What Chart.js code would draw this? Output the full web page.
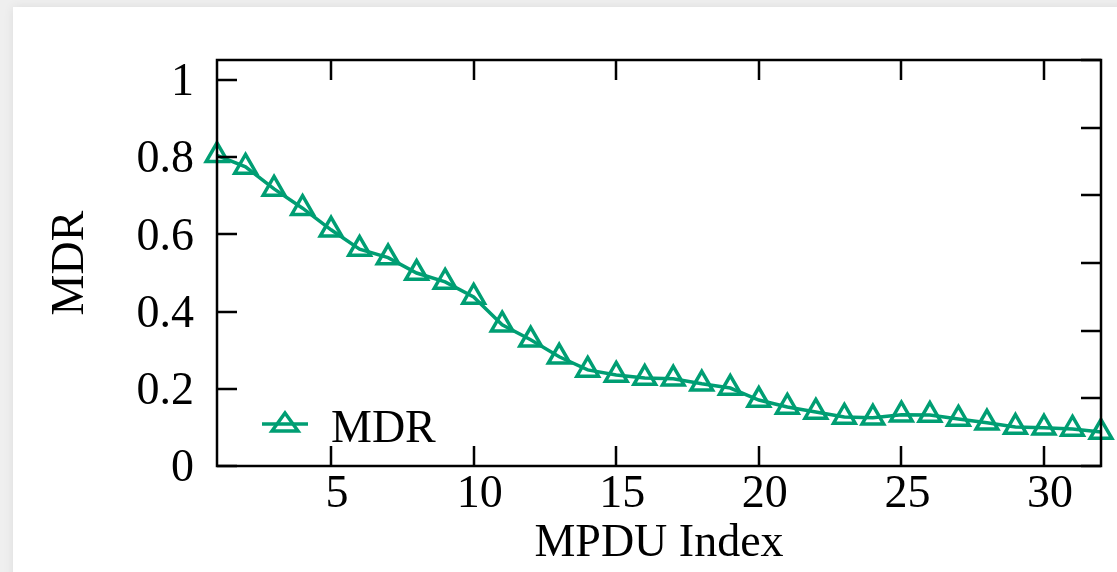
<!DOCTYPE html>
<html>
<head>
<meta charset="utf-8">
<title>MDR per MPDU index</title>
<script src="https://cdn.jsdelivr.net/npm/chart.js@4.4.1/dist/chart.umd.min.js"></script>
<style>
    html, body {
        margin: 0;
        padding: 0;
        width: 1117px;
        height: 572px;
        overflow: hidden;
        background: #efefef;
    }

    .card {
        position: absolute;
        left: 13px;
        top: 7px;
        width: 1200px;
        height: 700px;
        background: #ffffff;
        box-shadow: 0 0 10px rgba(0, 0, 0, 0.08);
    }

    #mdrChart {
        position: absolute;
        left: 0;
        top: 0;
    }
</style>
</head>
<body>
<div class="card"></div>
<canvas id="mdrChart" width="1117" height="572"></canvas>
<script>
// MPDU index 1..32 and the MDR
const mpduIndex = [1, 2, 3, 4, 5, 6, 7, 8, 9, 10, 11, 12, 13, 14, 15, 16,
    17, 18, 19, 20, 21, 22, 23, 24, 25, 26, 27, 28, 29, 30, 31, 32];
const mdrValues = [0.805, 0.775, 0.718, 0.668, 0.612, 0.562, 0.540, 0.500,
    0.477, 0.438, 0.366, 0.327, 0.283, 0.249, 0.236, 0.228,
    0.226, 0.213, 0.202, 0.171, 0.153, 0.140, 0.127, 0.125,
    0.133, 0.132, 0.122, 0.112, 0.101, 0.099, 0.096, 0.088];

const xTicks = [5, 10, 15, 20, 25, 30];
const yTicks = [0, 0.2, 0.4, 0.6, 0.8, 1];
const yTickLabels = ['0', '0.2', '0.4', '0.6', '0.8', '1'];
const y2Ticks = [0, 1, 2, 3, 4, 5, 6];

const GREEN = '#009e73';
const FONT = "'Liberation Serif', 'Times New Roman', serif";

Chart.defaults.font.family = FONT;
Chart.defaults.font.size = 46;
Chart.defaults.color = '#000000';

const setTicks = values => scale => {
    scale.ticks = values.map(value => ({ value }));
};

// gnuplot style frame: box border, inward ticks on all four sides, legend in the plot
const framePlugin = {
    id: 'frame',
    afterDatasetsDraw(chart) {
        const { ctx, chartArea: area, scales } = chart;
        const len = 20;

        ctx.save();
        ctx.strokeStyle = '#000000';
        ctx.lineWidth = 2.5;
        ctx.beginPath();

        xTicks.forEach(value => {
            const px = Math.round(scales.x.getPixelForValue(value));
            ctx.moveTo(px, area.bottom);
            ctx.lineTo(px, area.bottom - len);
            ctx.moveTo(px, area.top);
            ctx.lineTo(px, area.top + len);
        });

        yTicks.forEach(value => {
            const py = Math.round(scales.y.getPixelForValue(value));
            ctx.moveTo(area.left, py);
            ctx.lineTo(area.left + len, py);
        });

        y2Ticks.forEach(value => {
            const py = Math.round(scales.y2.getPixelForValue(value));
            ctx.moveTo(area.right, py);
            ctx.lineTo(area.right - len, py);
        });

        ctx.stroke();
        ctx.strokeRect(area.left, area.top, area.right - area.left, area.bottom - area.top);

        // legend
        const lx = area.left + 45;
        const ly = area.bottom - 42;
        ctx.strokeStyle = GREEN;
        ctx.lineWidth = 3.5;
        ctx.beginPath();
        ctx.moveTo(lx, ly);
        ctx.lineTo(lx + 46, ly);
        ctx.stroke();

        ctx.beginPath();
        ctx.moveTo(lx + 23, ly - 11);
        ctx.lineTo(lx + 36, ly + 7);
        ctx.lineTo(lx + 10, ly + 7);
        ctx.closePath();
        ctx.stroke();

        ctx.fillStyle = '#000000';
        ctx.font = '46px ' + FONT;
        ctx.textAlign = 'left';
        ctx.textBaseline = 'alphabetic';
        ctx.fillText('MDR', lx + 69, ly + 18);
        ctx.restore();
    },
};

new Chart(document.getElementById('mdrChart'), {
    type: 'line',
    data: {
        labels: mpduIndex,
        datasets: [{
            label: 'MDR',
            data: mpduIndex.map((x, i) => ({ x, y: mdrValues[i] })),
            borderColor: GREEN,
            backgroundColor: 'rgba(0,0,0,0)',
            borderWidth: 3.5,
            pointStyle: 'triangle',
            pointRadius: 12.5,
            pointBorderWidth: 3.5,
            pointBorderColor: GREEN,
            pointBackgroundColor: 'rgba(0,0,0,0)',
            fill: false,
            tension: 0,
            clip: false,
        }],
    },
    options: {
        responsive: false,
        devicePixelRatio: 1,
        animation: false,
        events: [],
        layout: {
            padding: { top: 60, right: 0, bottom: 0, left: 0 },
        },
        scales: {
            x: {
                type: 'linear',
                position: 'bottom',
                min: 1,
                max: 32,
                afterBuildTicks: setTicks(xTicks),
                afterFit: scale => { scale.height = 106; },
                grid: { display: false, drawTicks: false },
                border: { display: false },
                ticks: {
                    padding: 1,
                    labelOffset: 6,
                    maxRotation: 0,
                    autoSkip: false,
                    callback: value => String(value),
                },
                title: {
                    display: true,
                    text: 'MPDU Index',
                    padding: { top: 0, bottom: 0 },
                },
            },
            y: {
                type: 'linear',
                position: 'left',
                min: 0,
                max: 1.052,
                afterBuildTicks: setTicks(yTicks),
                afterFit: scale => { scale.width = 217; },
                grid: { display: false, drawTicks: false },
                border: { display: false },
                ticks: {
                    padding: 23,
                    labelOffset: 3,
                    autoSkip: false,
                    callback: value => yTickLabels[yTicks.indexOf(value)] ?? '',
                },
                title: {
                    display: true,
                    text: 'MDR',
                    padding: { top: 43, bottom: 0 },
                },
            },
            y2: {
                type: 'linear',
                position: 'right',
                min: 0,
                max: 6,
                afterBuildTicks: setTicks(y2Ticks),
                afterFit: scale => { scale.width = 14; },
                grid: { display: false, drawTicks: false },
                border: { display: false },
                ticks: { display: false },
            },
        },
        plugins: {
            legend: { display: false },
            tooltip: { enabled: false },
        },
    },
    plugins: [framePlugin],
});
</script>
</body>
</html>
